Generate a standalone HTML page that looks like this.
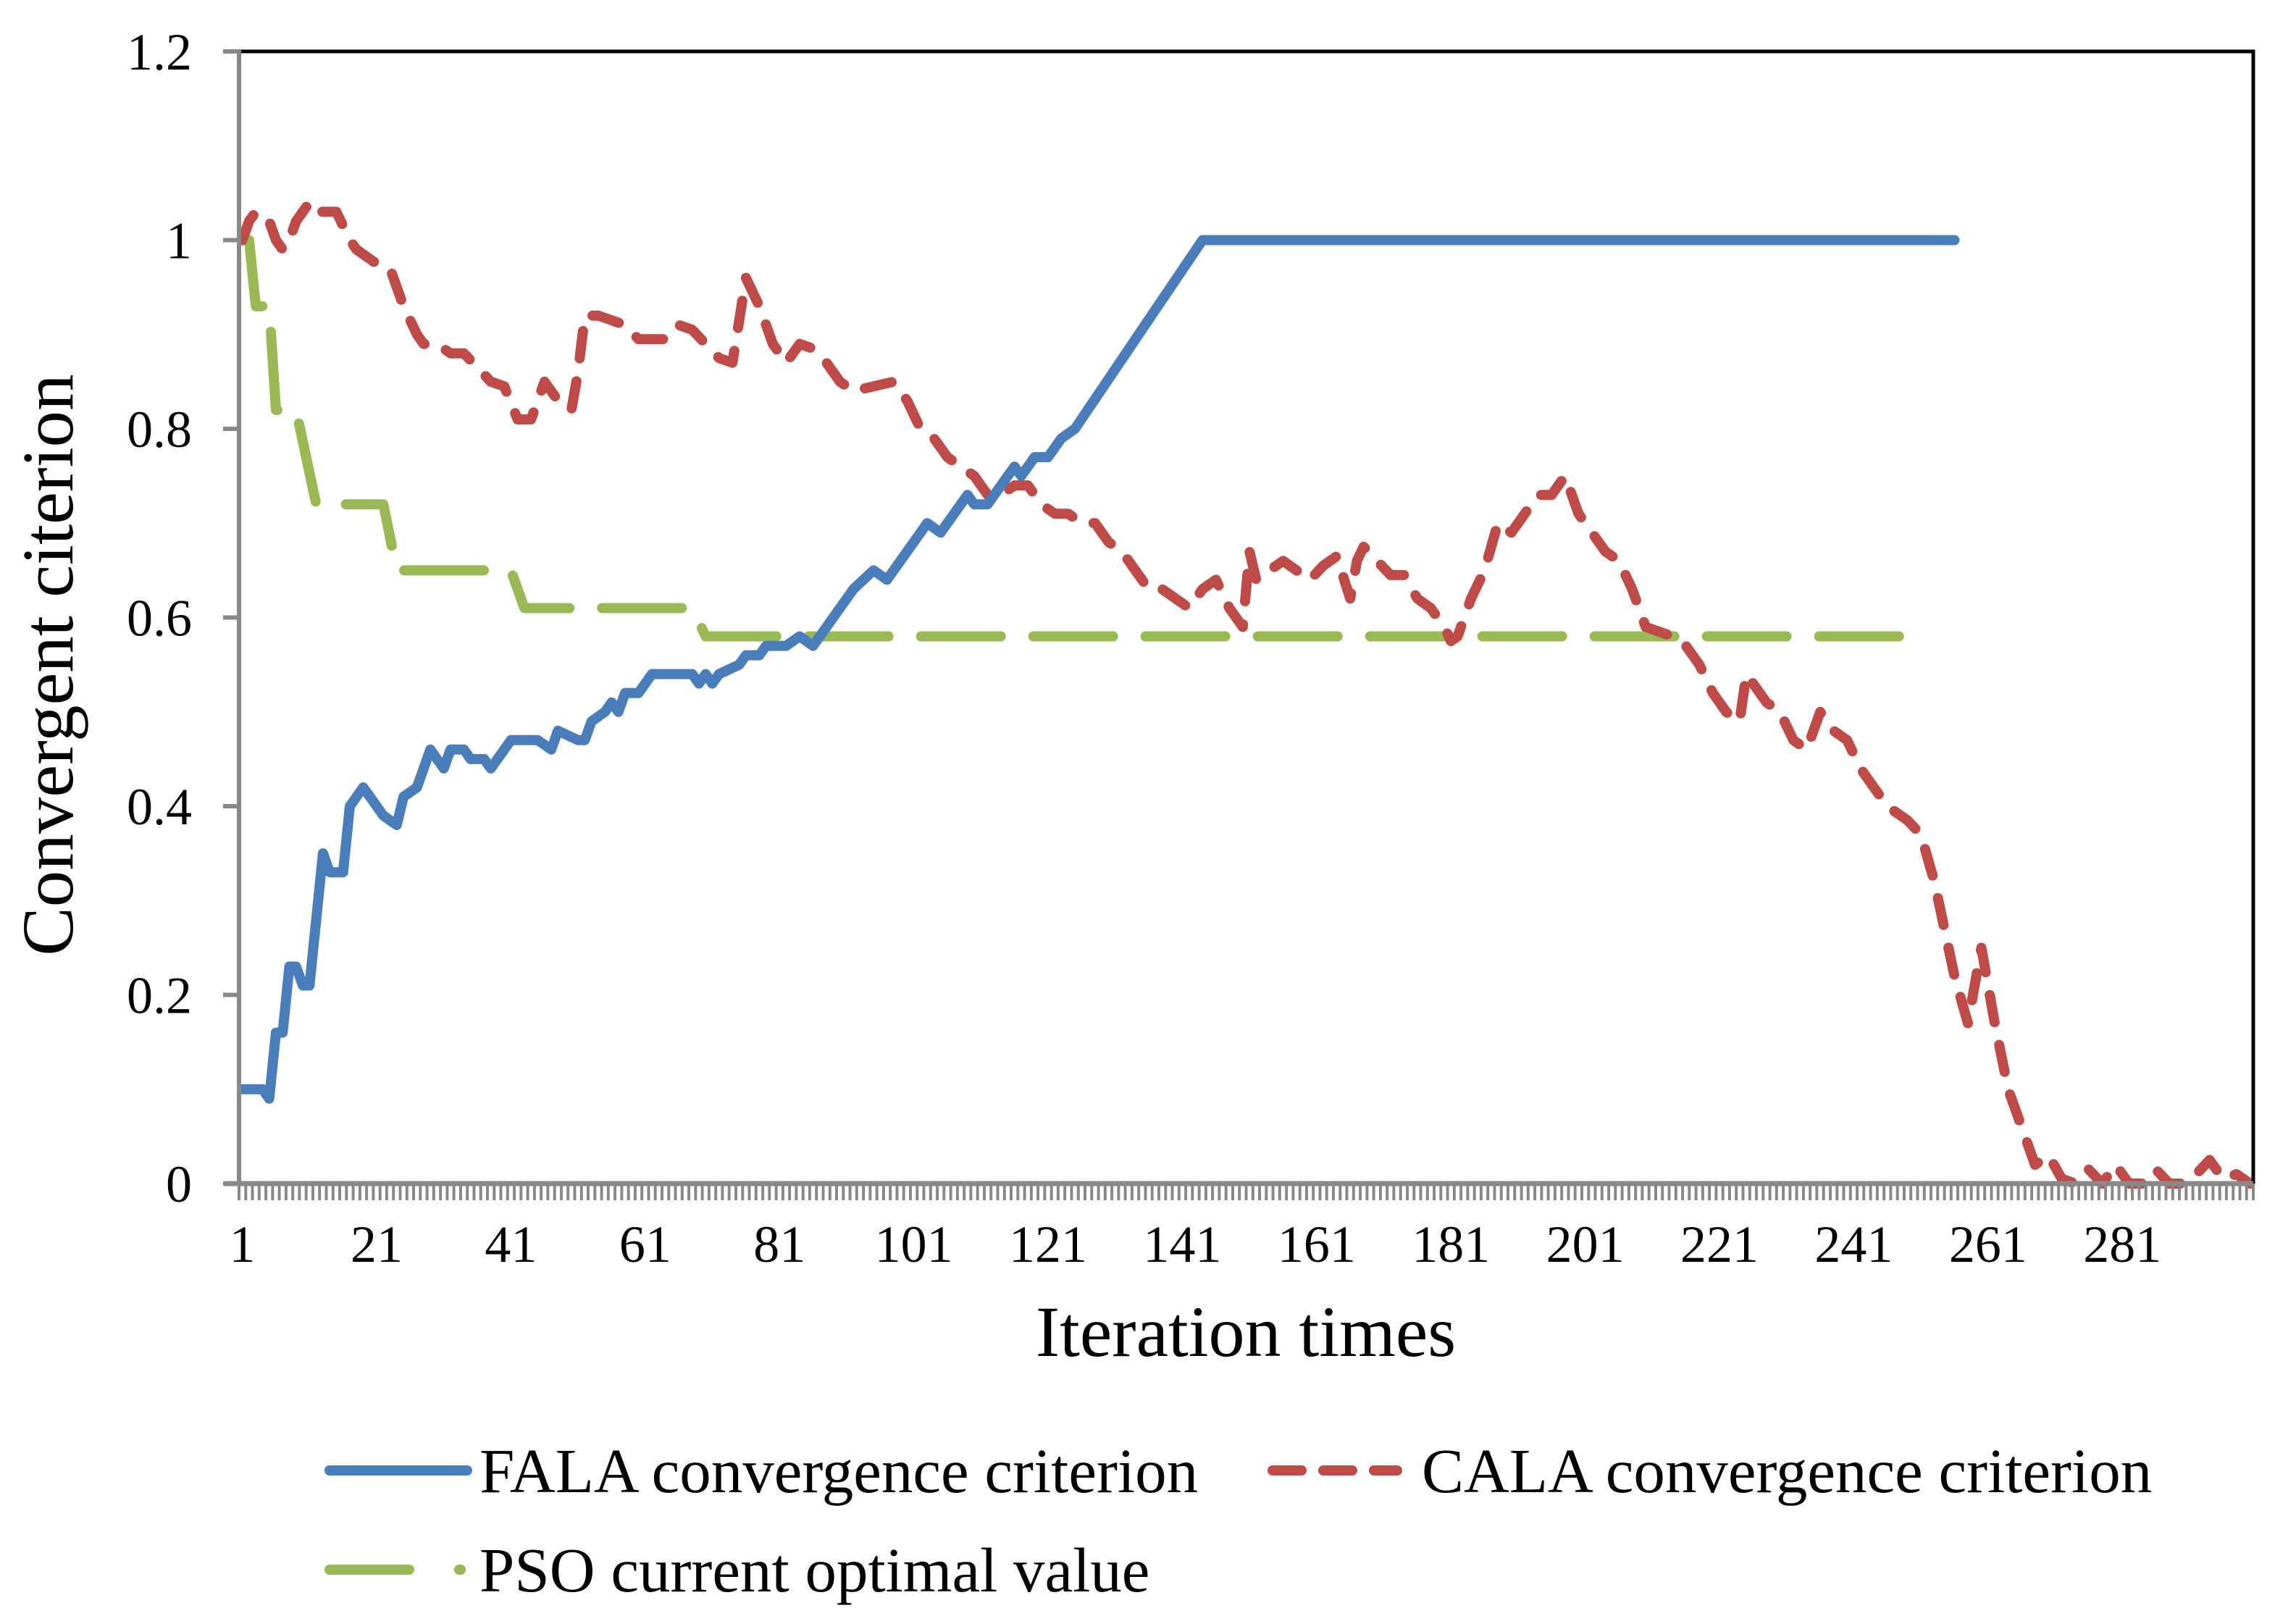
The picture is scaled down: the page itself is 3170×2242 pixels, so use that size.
<!DOCTYPE html>
<html><head><meta charset="utf-8"><style>
html,body{margin:0;padding:0;background:#fff}
svg{display:block}
text{font-family:"Liberation Serif","Times New Roman",serif;fill:#000}
</style></head><body>
<svg id="chart" width="3170" height="2242" viewBox="0 0 3170 2242">
<g id="plot"></g>
<g id="axes"></g>
<text x="1720" y="1872" font-size="100" text-anchor="middle">Iteration times</text>
<text transform="translate(100,918) rotate(-90)" font-size="101" text-anchor="middle">Convergent citerion</text>
<g>
<g>
<line x1="455" y1="2030" x2="645" y2="2030" stroke="#4a7ebb" stroke-width="14" stroke-linecap="round"/>
<text x="662" y="2060" font-size="87">FALA convergence criterion</text></g>
<g>
<line x1="1757" y1="2030" x2="1929" y2="2030" stroke="#be4b48" stroke-width="14" stroke-linecap="round" stroke-dasharray="40 30"/>
<text x="1963" y="2060" font-size="87">CALA convergence criterion</text></g>
<g>
<line x1="455" y1="2167" x2="565" y2="2167" stroke="#98b954" stroke-width="14" stroke-linecap="round"/>
<line x1="634" y1="2167" x2="636" y2="2167" stroke="#98b954" stroke-width="14" stroke-linecap="round"/>
<text x="662" y="2197" font-size="87">PSO current optimal value</text></g>
</g>
</svg>
<script>
const xTickLabels=[1,21,41,61,81,101,121,141,161,181,201,221,241,261,281];
const yTickLabels=[0,0.2,0.4,0.6,0.8,1,1.2];
const falaIter=[1,4,5,6,7,8,9,10,11,13,14,16,17,19,20,22,24,25,27,28,29,31,32,34,35,37,38,40,41,45,47,48,51,52,53,55,56,57,58,60,61,62,68,69,70,71,72,75,76,78,79,82,84,86,87,92,95,97,100,102,103,105,107,109,110,112,115,116,117,119,121,122,123,125,144,256];
const falaVal=[0.1,0.1,0.09,0.16,0.16,0.23,0.23,0.21,0.21,0.35,0.33,0.33,0.40,0.42,0.41,0.39,0.38,0.41,0.42,0.44,0.46,0.44,0.46,0.46,0.45,0.45,0.44,0.46,0.47,0.47,0.46,0.48,0.47,0.47,0.49,0.50,0.51,0.50,0.52,0.52,0.53,0.54,0.54,0.53,0.54,0.53,0.54,0.55,0.56,0.56,0.57,0.57,0.58,0.57,0.58,0.63,0.65,0.64,0.67,0.69,0.70,0.69,0.71,0.73,0.72,0.72,0.75,0.76,0.75,0.77,0.77,0.78,0.79,0.80,1.0,1.0];
const calaIter=[1,2,3,5,6,7,8,9,11,12,14,15,17,18,21,23,25,27,28,30,32,34,36,38,40,42,44,45,46,47,48,49,50,51,52,54,56,58,60,62,64,66,68,70,72,74,76,78,80,82,84,86,88,90,92,95,98,100,102,104,106,108,110,112,114,116,118,120,122,124,126,128,130,132,134,136,138,140,142,144,146,148,150,151,152,154,156,158,160,162,164,166,167,168,170,172,174,176,178,180,181,182,184,186,188,190,192,194,196,198,200,202,204,206,208,210,212,214,216,218,220,222,224,225,226,228,230,232,234,236,238,240,242,244,246,249,251,253,256,258,260,262,264,266,268,270,272,274,276,278,280,282,284,286,288,290,292,294,296,298,300];
const calaVal=[1.0,1.02,1.03,1.02,1.0,0.99,1.0,1.02,1.04,1.03,1.03,1.03,1.0,0.99,0.975,0.97,0.93,0.90,0.89,0.89,0.88,0.88,0.865,0.85,0.845,0.81,0.81,0.83,0.85,0.84,0.83,0.825,0.82,0.86,0.92,0.92,0.915,0.91,0.895,0.895,0.895,0.91,0.905,0.89,0.875,0.87,0.96,0.93,0.89,0.87,0.89,0.885,0.87,0.85,0.84,0.845,0.85,0.83,0.80,0.79,0.77,0.76,0.75,0.73,0.73,0.74,0.74,0.72,0.71,0.71,0.70,0.70,0.68,0.67,0.65,0.63,0.63,0.62,0.61,0.63,0.64,0.61,0.59,0.67,0.64,0.65,0.66,0.65,0.64,0.655,0.665,0.62,0.66,0.675,0.66,0.645,0.645,0.62,0.61,0.59,0.575,0.58,0.62,0.65,0.70,0.69,0.71,0.73,0.73,0.75,0.71,0.69,0.67,0.66,0.63,0.59,0.585,0.58,0.57,0.55,0.52,0.50,0.49,0.54,0.53,0.51,0.50,0.47,0.46,0.50,0.48,0.47,0.44,0.42,0.40,0.385,0.37,0.32,0.22,0.17,0.25,0.17,0.10,0.06,0.02,0.03,0.005,0.0,0.015,0.0,0.02,0.0,0.0,0.015,0.0,0.0,0.01,0.025,0.005,0.01,0.0,0.015];
const psoIter=[1,2,3,5,6,9,12,22,24,41,43,68,70,250];
const psoVal=[1.0,1.0,0.93,0.93,0.82,0.82,0.72,0.72,0.65,0.65,0.61,0.61,0.58,0.58];

const L=330,R=3111,T=71,B=1634,N=300,YMAX=1.2;
const cw=(R-L)/N;
const xs=i=>L+(i-0.5)*cw;
const ys=v=>B-(v/YMAX)*(B-T);
const NS='http://www.w3.org/2000/svg';
function mk(tag,attrs,parent){const e=document.createElementNS(NS,tag);for(const k in attrs)e.setAttribute(k,attrs[k]);parent.appendChild(e);return e;}
const axes=document.getElementById('axes'),plot=document.getElementById('plot');
const fr=mk('path',{d:`M${L} ${T}H${R}V${B}`,fill:'none',stroke:'#000','stroke-width':5},axes);


const ya=mk('line',{x1:L,y1:T-2,x2:L,y2:B+3,stroke:'#888','stroke-width':6},axes);


const xa=mk('line',{x1:L-20,y1:B,x2:R,y2:B,stroke:'#888','stroke-width':7},axes);


let td='';
for(let i=0;i<=N;i++){const x=L+i*cw;td+=`M${x.toFixed(1)} ${B}V${B+23}`;}
const tk=mk('path',{d:td,stroke:'#888','stroke-width':4},axes);


yTickLabels.forEach(v=>{
  const y=ys(v);
  const t=mk('line',{x1:L-22,y1:y,x2:L,y2:y,stroke:'#888','stroke-width':6},axes);
  
  
  const tx=mk('text',{x:265,y:y+25,'font-size':72,'text-anchor':'end'},axes);
  tx.textContent=String(v);
  
  
});
xTickLabels.forEach(v=>{
  const tx=mk('text',{x:xs(v),y:1742,'font-size':72,'text-anchor':'middle'},axes);
  tx.textContent=String(v);
  
  
});
function series(it,vals,color,dash,name){
  const pts=it.map((i,k)=>xs(i).toFixed(1)+','+ys(vals[k]).toFixed(1)).join(' ');
  const a={points:pts,fill:'none',stroke:color,'stroke-width':14,'stroke-linejoin':'round','stroke-linecap':'round'};
  if(dash)a['stroke-dasharray']=dash;
  const p=mk('polyline',a,plot);
  
  
}
series(psoIter,psoVal,'#98b954','110 45','pso-line');
series(calaIter,calaVal,'#be4b48','38 32','cala-line');
series(falaIter,falaVal,'#4a7ebb',null,'fala-line');
</script>
</body></html>
